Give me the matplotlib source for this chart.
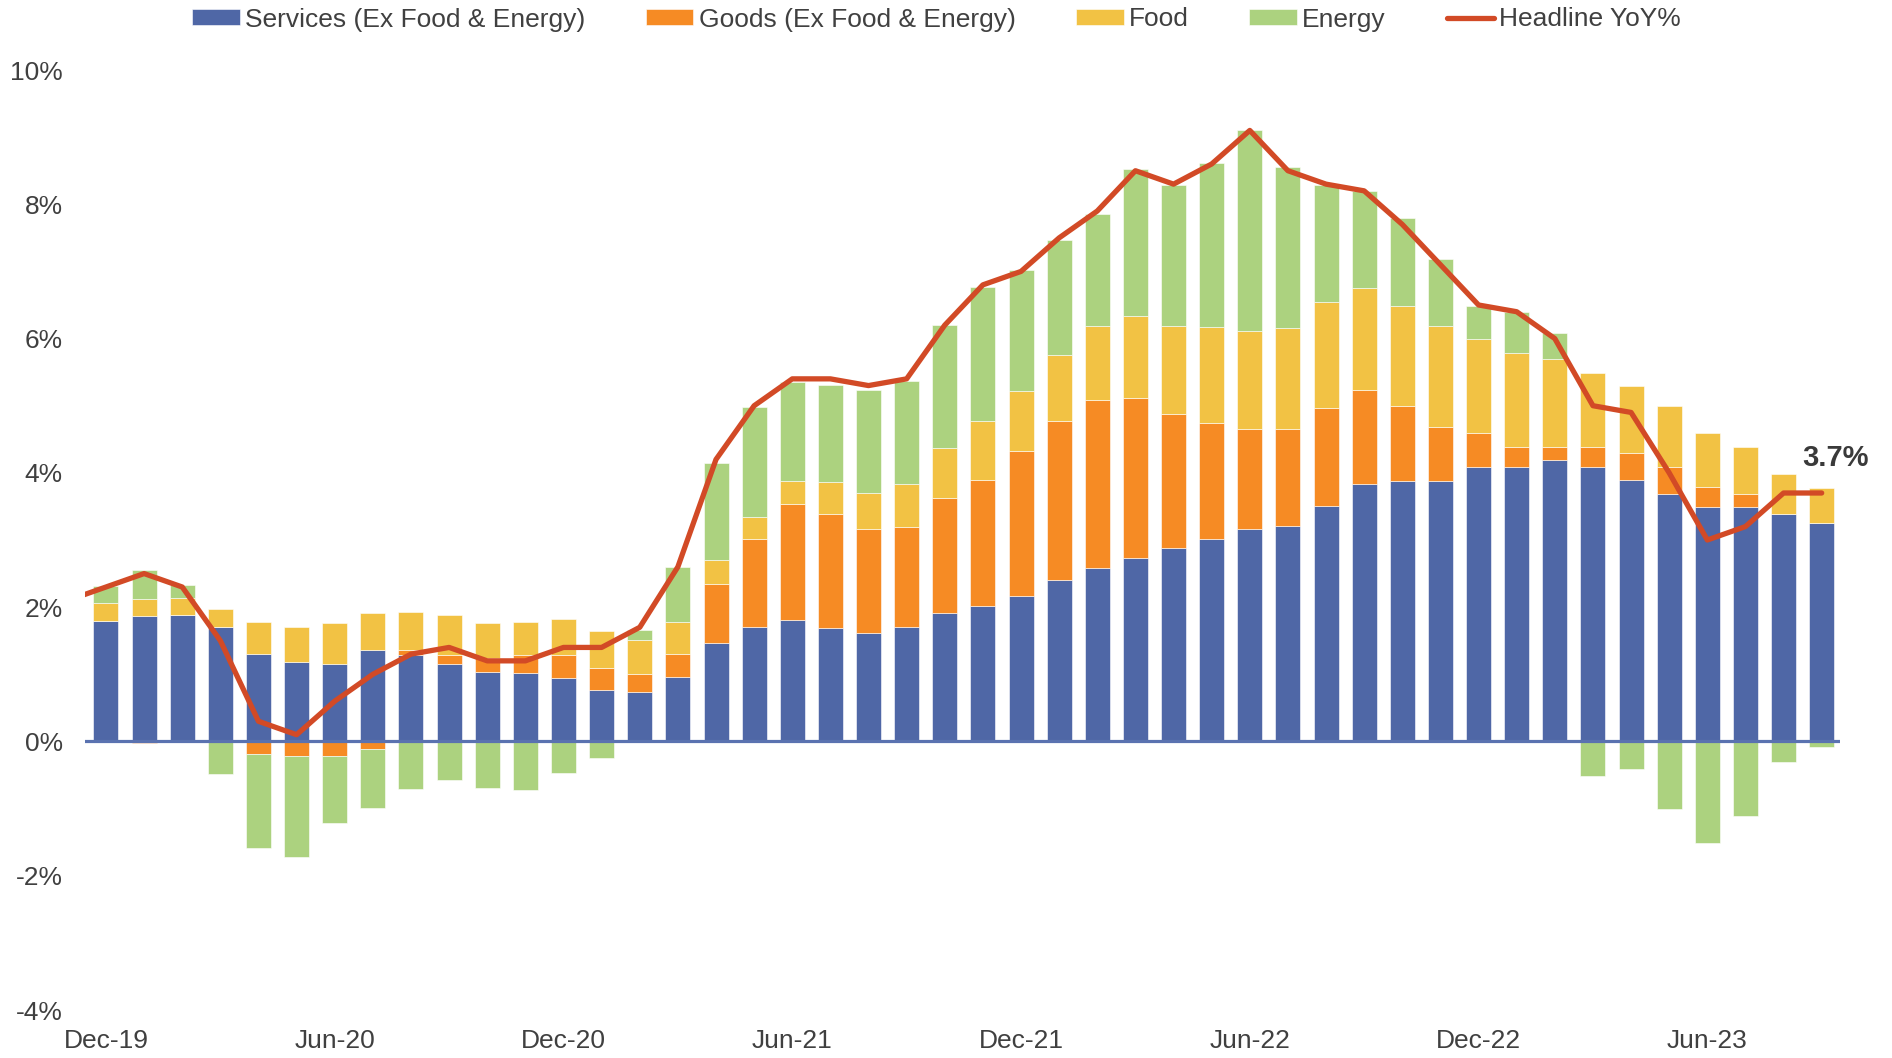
import numpy as np
import matplotlib
matplotlib.use("Agg")
import matplotlib.pyplot as plt
from matplotlib.ticker import FuncFormatter

plt.rcParams['font.family'] = ['Liberation Sans', 'DejaVu Sans']

# Months Dec-19 .. Sep-23 (bars)
months = ['Dec-19', 'Jan-20', 'Feb-20', 'Mar-20', 'Apr-20', 'May-20', 'Jun-20', 'Jul-20', 'Aug-20',
          'Sep-20', 'Oct-20', 'Nov-20', 'Dec-20', 'Jan-21', 'Feb-21', 'Mar-21', 'Apr-21', 'May-21',
          'Jun-21', 'Jul-21', 'Aug-21', 'Sep-21', 'Oct-21', 'Nov-21', 'Dec-21', 'Jan-22', 'Feb-22',
          'Mar-22', 'Apr-22', 'May-22', 'Jun-22', 'Jul-22', 'Aug-22', 'Sep-22', 'Oct-22', 'Nov-22',
          'Dec-22', 'Jan-23', 'Feb-23', 'Mar-23', 'Apr-23', 'May-23', 'Jun-23', 'Jul-23', 'Aug-23',
          'Sep-23']

services = [1.80, 1.87, 1.89, 1.70, 1.30, 1.18, 1.16, 1.36, 1.29, 1.15, 1.03, 1.02, 0.94, 0.76,
            0.73, 0.96, 1.46, 1.71, 1.81, 1.69, 1.62, 1.71, 1.91, 2.01, 2.16, 2.40, 2.58, 2.73,
            2.88, 3.01, 3.16, 3.21, 3.51, 3.84, 3.88, 3.88, 4.08, 4.08, 4.19, 4.09, 3.89, 3.69,
            3.49, 3.49, 3.39, 3.25]
goods = [0.00, -0.03, 0.00, 0.00, -0.18, -0.21, -0.22, -0.11, 0.07, 0.14, 0.22, 0.26, 0.34, 0.34,
         0.28, 0.34, 0.89, 1.31, 1.73, 1.69, 1.54, 1.48, 1.71, 1.89, 2.16, 2.37, 2.51, 2.39,
         1.99, 1.74, 1.49, 1.44, 1.46, 1.40, 1.11, 0.81, 0.51, 0.31, 0.20, 0.30, 0.40, 0.40,
         0.30, 0.20, 0.00, 0.00]
food = [0.26, 0.25, 0.24, 0.27, 0.48, 0.53, 0.61, 0.55, 0.57, 0.60, 0.52, 0.50, 0.54, 0.54,
        0.50, 0.48, 0.35, 0.32, 0.34, 0.49, 0.54, 0.65, 0.75, 0.87, 0.90, 0.98, 1.09, 1.21,
        1.31, 1.42, 1.46, 1.51, 1.58, 1.52, 1.50, 1.50, 1.40, 1.40, 1.30, 1.10, 1.00, 0.90,
        0.80, 0.70, 0.60, 0.52]
energy = [0.25, 0.44, 0.20, -0.48, -1.40, -1.51, -1.00, -0.88, -0.71, -0.58, -0.70, -0.72, -0.47,
          -0.24, 0.15, 0.82, 1.45, 1.64, 1.48, 1.44, 1.53, 1.53, 1.83, 2.00, 1.80, 1.72, 1.68,
          2.20, 2.11, 2.45, 2.99, 2.40, 1.73, 1.44, 1.30, 1.00, 0.50, 0.60, 0.40, -0.52, -0.41,
          -1.01, -1.51, -1.11, -0.31, -0.09]

# Headline YoY% from Nov-19 (one month before first bar) to Sep-23
headline = [2.1, 2.3, 2.5, 2.3, 1.5, 0.3, 0.1, 0.6, 1.0, 1.3, 1.4, 1.2, 1.2, 1.4, 1.4, 1.7, 2.6,
            4.2, 5.0, 5.4, 5.4, 5.3, 5.4, 6.2, 6.8, 7.0, 7.5, 7.9, 8.5, 8.3, 8.6, 9.1, 8.5, 8.3,
            8.2, 7.7, 7.1, 6.5, 6.4, 6.0, 5.0, 4.9, 4.0, 3.0, 3.2, 3.7, 3.7]

series_names = ['Services (Ex Food & Energy)', 'Goods (Ex Food & Energy)', 'Food', 'Energy']
colors = ['#4f67a6', '#f68b24', '#f2c244', '#acd27f']
line_color = '#d24a26'
text_color = '#404040'

fig = plt.figure(figsize=(18.92, 10.58), dpi=100)
ax = fig.add_axes([85 / 1892, 1 - 1010 / 1058, (1840 - 85) / 1892, (1010 - 70) / 1058])

x = np.arange(len(months))
pos_bottom = np.zeros(len(months))
neg_bottom = np.zeros(len(months))
bar_handles = []
for name, vals, c in zip(series_names, [services, goods, food, energy], colors):
    v = np.array(vals)
    bottom = np.where(v >= 0, pos_bottom, neg_bottom)
    h = ax.bar(x, v, bottom=bottom, width=0.656, color=c, edgecolor='white', linewidth=0.4,
               label=name, zorder=2)
    bar_handles.append(h)
    pos_bottom = pos_bottom + np.where(v >= 0, v, 0)
    neg_bottom = neg_bottom + np.where(v < 0, v, 0)

ax.axhline(0, color='#5a72b0', lw=2.3, zorder=3)

xl = np.arange(-1, len(months))
line_h, = ax.plot(xl, headline, color=line_color, lw=3.8, solid_capstyle='round',
                  solid_joinstyle='round', label='Headline YoY%', zorder=4)

ax.annotate('3.7%', xy=(x[-1], headline[-1]), xytext=(10, 25), textcoords='offset points',
            ha='center', va='center', fontsize=21, fontweight='bold', color='#3a3a3a')

ax.set_xlim(-0.55, 45.48)
ax.set_ylim(-4, 10)
ax.set_yticks(np.arange(-4, 11, 2))
ax.yaxis.set_major_formatter(FuncFormatter(lambda v, p: f'{v:.0f}%'))
ax.set_xticks(x[::6])
ax.set_xticklabels(months[::6])
ax.tick_params(axis='both', length=0, labelsize=19, colors=text_color)
ax.tick_params(axis='y', pad=16)
ax.tick_params(axis='x', pad=14)
for s in ax.spines.values():
    s.set_visible(False)

handles = bar_handles + [line_h]
labels = series_names + ['Headline YoY%']
leg = fig.legend(handles, labels, loc='center', bbox_to_anchor=(0.495, 1 - 19.5 / 1058), ncol=5,
                 frameon=False, fontsize=19, handlelength=1.8, handleheight=0.56,
                 handletextpad=0.2, columnspacing=2.3, borderpad=0)
for t in leg.get_texts():
    t.set_color(text_color)

fig.savefig('out.png', dpi=100)
